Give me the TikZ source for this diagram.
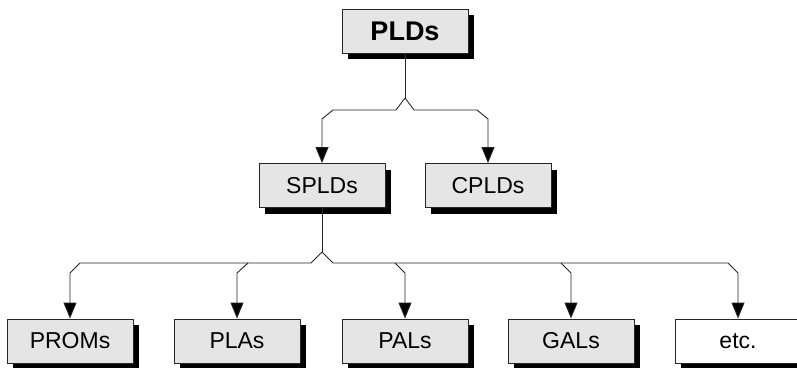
\documentclass[tikz,border=0pt]{standalone}
\usepackage{fontspec}
\setmainfont{Liberation Sans}
\usetikzlibrary{arrows.meta,shadows}
\begin{document}
\begin{tikzpicture}[x=1pt,y=-1pt,
  box/.style={draw=black!85, line width=0.9pt, fill=black!10, minimum width=126pt, minimum height=44pt,
    inner sep=0pt, font=\fontsize{23}{27}\selectfont,
    drop shadow={shadow xshift=6pt, shadow yshift=-6pt, fill=black, opacity=1}},
  wbox/.style={box, fill=white},
  line/.style={draw=black!85, line width=0.9pt},
  arr/.style={line, -{Triangle[length=16pt,width=13pt,fill=black]}}]
\clip (0,0) rectangle (797,367);
% nodes
\node[box, font=\fontsize{27}{32}\bfseries] (plds) at (405,31) {PLDs};
\node[box] (splds) at (322,185.5) {SPLDs};
\node[box] (cplds) at (488,185.5) {CPLDs};
\node[box] (proms) at (70,341) {PROMs};
\node[box] (plas) at (237,341) {PLAs};
\node[box] (pals) at (405,341) {PALs};
\node[box] (gals) at (571,341) {GALs};
\node[wbox] (etc) at (738,341) {etc.};
% top connectors
\coordinate (tp) at (405,98);
\draw[line] (plds.south) -- (tp);
\draw[arr] (tp) -- (396,110) -- (333,110) -- (322,119) -- (splds.north);
\draw[arr] (tp) -- (414,110) -- (477,110) -- (488,119) -- (cplds.north);
% bottom connectors
\coordinate (bp) at (322,252);
\draw[line] (splds.south) -- (bp);
\draw[arr] (bp) -- (311,263) -- (80,263) -- (70,273) -- (proms.north);
\draw[arr] (248,263) -- (237,273) -- (plas.north);
\draw[arr] (bp) -- (333,263) -- (728,263) -- (738,273) -- (etc.north);
\draw[arr] (395,263) -- (405,273) -- (pals.north);
\draw[arr] (561,263) -- (571,273) -- (gals.north);
\end{tikzpicture}
\end{document}
